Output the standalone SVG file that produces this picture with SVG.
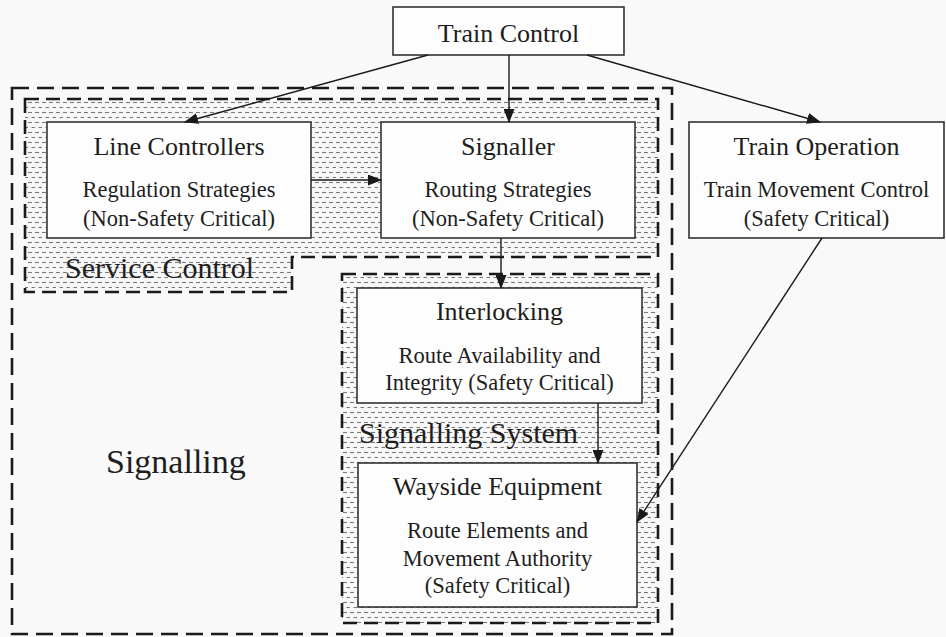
<svg xmlns="http://www.w3.org/2000/svg" width="946" height="637" viewBox="0 0 946 637">
<defs>
<pattern id="hatch" x="0" y="0" width="7" height="10" patternUnits="userSpaceOnUse">
<rect width="7" height="10" fill="#f8f8f8"/>
<line x1="0" y1="2.5" x2="4" y2="2.5" stroke="#7a7a7a" stroke-width="1.1"/>
<line x1="3.5" y1="7.5" x2="7" y2="7.5" stroke="#7a7a7a" stroke-width="1.1"/>
</pattern>
<marker id="arr" markerWidth="14" markerHeight="11" refX="13" refY="5.5" orient="auto" markerUnits="userSpaceOnUse">
<path d="M0,0 L14,5.5 L0,11 Z" fill="#1a1a1a"/>
</marker>
</defs>
<style>
.node{fill:#fdfdfd;stroke:#333;stroke-width:1.6}
.t{font-family:"Liberation Serif","Times New Roman",serif;fill:#1e1e1e;text-anchor:middle}
.h{font-size:26px}
.s{font-size:22.5px}
.lab{font-family:"Liberation Serif","Times New Roman",serif;fill:#1e1e1e;font-size:30px}
.region{fill:url(#hatch);stroke:#1a1a1a;stroke-width:2.6;stroke-dasharray:14 7}
.outer{fill:none;stroke:#1a1a1a;stroke-width:2.6;stroke-dasharray:17 8}
.conn{stroke:#1a1a1a;stroke-width:1.4;fill:none;marker-end:url(#arr)}
</style>
<rect width="946" height="637" fill="#f9f9f9"/>
<g id="signalling">
<rect class="outer" x="12" y="88" width="660" height="546"/>
<text class="lab" x="106" y="473" style="font-size:34px">Signalling</text>
</g>
<g id="service-control">
<path class="region" d="M25,99 H658 V257 H292 V292 H25 Z"/>
<text class="lab" x="65" y="278">Service Control</text>
</g>
<g id="signalling-system">
<rect class="region" x="342" y="274" width="316" height="349"/>
<text class="lab" x="359" y="443">Signalling System</text>
</g>
<g id="train-control">
<rect class="node" x="393" y="7" width="231" height="48"/>
<text class="t h" x="508.5" y="42">Train Control</text>
</g>
<g id="line-controllers">
<rect class="node" x="47" y="122" width="264" height="116"/>
<text class="t h" x="179" y="155">Line Controllers</text>
<text class="t s" x="179" y="197">Regulation Strategies</text>
<text class="t s" x="179" y="226">(Non-Safety Critical)</text>
</g>
<g id="signaller">
<rect class="node" x="381" y="122" width="254" height="116"/>
<text class="t h" x="508" y="155">Signaller</text>
<text class="t s" x="508" y="197">Routing Strategies</text>
<text class="t s" x="508" y="226">(Non-Safety Critical)</text>
</g>
<g id="train-operation">
<rect class="node" x="689" y="122" width="255" height="116"/>
<text class="t h" x="816.5" y="155">Train Operation</text>
<text class="t s" x="816.5" y="197">Train Movement Control</text>
<text class="t s" x="816.5" y="226">(Safety Critical)</text>
</g>
<g id="interlocking">
<rect class="node" x="357" y="288" width="285" height="115"/>
<text class="t h" x="499.5" y="320">Interlocking</text>
<text class="t s" x="499.5" y="363">Route Availability and</text>
<text class="t s" x="499.5" y="390">Integrity (Safety Critical)</text>
</g>
<g id="wayside-equipment">
<rect class="node" x="358" y="463" width="279" height="144"/>
<text class="t h" x="497.5" y="495">Wayside Equipment</text>
<text class="t s" x="497.5" y="538">Route Elements and</text>
<text class="t s" x="497.5" y="566">Movement Authority</text>
<text class="t s" x="497.5" y="593">(Safety Critical)</text>
</g>
<g id="connectors">
<line class="conn" x1="428" y1="55" x2="185" y2="122"/>
<line class="conn" x1="509" y1="55" x2="509" y2="122"/>
<line class="conn" x1="587" y1="55" x2="820" y2="122"/>
<line class="conn" x1="311" y1="180" x2="381" y2="180"/>
<line class="conn" x1="501" y1="238" x2="501" y2="288"/>
<line class="conn" x1="598" y1="403" x2="598" y2="463"/>
<line class="conn" x1="822" y1="238" x2="637" y2="522"/>
</g>
</svg>
